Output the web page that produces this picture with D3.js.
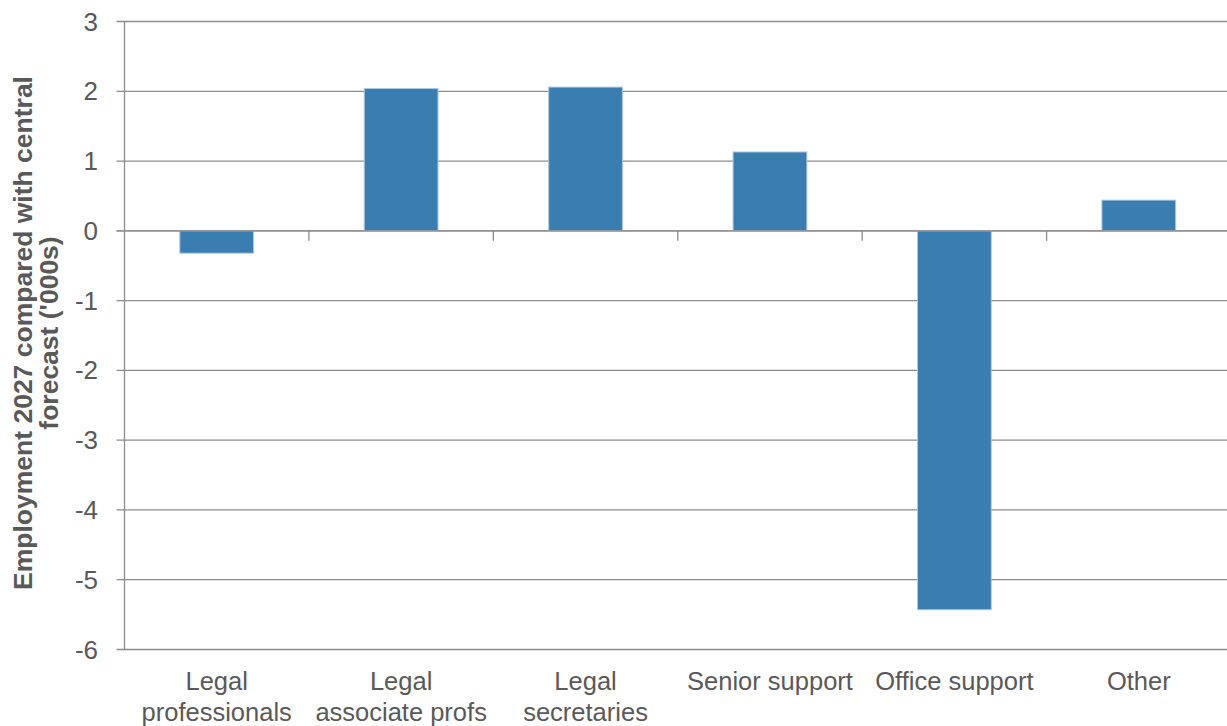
<!DOCTYPE html>
<html>
<head>
<meta charset="utf-8">
<script src="https://cdn.jsdelivr.net/npm/d3@7"></script>
<style>
  body { margin: 0; background: #fff; }
  svg { display: block; font-family: "Liberation Sans", Arial, sans-serif; }
</style>
</head>
<body>
<div id="chart"></div>
<script>
var categories = [["Legal", "professionals"], ["Legal", "associate profs"], ["Legal", "secretaries"], ["Senior support"], ["Office support"], ["Other"]]
var values = [-0.32, 2.04, 2.06, 1.13, -5.43, 0.44]
var yTicks = [3, 2, 1, 0, -1, -2, -3, -4, -5, -6]

var width = 1227, height = 726
// note: "top" is reserved on window, so use plot* names
var plotLeft = 124.5, plotRight = 1231, plotTop = 21.5, plotBottom = 649.5

var svg = d3.select('#chart').append('svg')
  .attr('width', width)
  .attr('height', height)

var x = d3.scaleBand()
  .domain(d3.range(categories.length))
  .range([plotLeft, plotRight])
  .paddingInner(0.6)
  .paddingOuter(0.3)

var y = d3.scaleLinear()
  .domain([-6, 3])
  .range([plotBottom, plotTop])

var grey = '#8c8c8c'
var textCol = '#595959'

// horizontal gridlines + left ticks
svg.append('g').selectAll('line')
  .data(yTicks)
  .enter()
  .append('line')
    .attr('x1', plotLeft - 8)
    .attr('x2', plotRight)
    .attr('y1', function(d) { return y(d); })
    .attr('y2', function(d) { return y(d); })
    .attr('stroke', grey)
    .attr('stroke-width', 1.3)

// y labels
svg.append('g').selectAll('text')
  .data(yTicks)
  .enter()
  .append('text')
    .attr('x', 98)
    .attr('y', function(d) { return y(d) + 9; })
    .attr('text-anchor', 'end')
    .attr('fill', textCol)
    .attr('font-size', 26)
    .text(function(d) { return d; })

// bars
svg.append('g').selectAll('rect')
  .data(values)
  .enter()
  .append('rect')
    .attr('x', function(d, i) { return x(i); })
    .attr('width', x.bandwidth())
    .attr('y', function(d) { return y(Math.max(0, d)); })
    .attr('height', function(d) { return Math.abs(y(d) - y(0)); })
    .attr('fill', '#3a7db1')
    .attr('stroke', '#a9c9e3')
    .attr('stroke-width', 1)

// y axis line
svg.append('line')
  .attr('x1', plotLeft).attr('x2', plotLeft)
  .attr('y1', plotTop).attr('y2', plotBottom)
  .attr('stroke', grey)
  .attr('stroke-width', 1.3)

// zero line with category ticks
var step = x.step()
svg.append('line')
  .attr('x1', plotLeft - 8).attr('x2', plotRight)
  .attr('y1', y(0)).attr('y2', y(0))
  .attr('stroke', grey)
  .attr('stroke-width', 1.3)
svg.append('g').selectAll('line')
  .data(d3.range(1, categories.length + 1))
  .enter()
  .append('line')
    .attr('x1', function(i) { return plotLeft + i * step; })
    .attr('x2', function(i) { return plotLeft + i * step; })
    .attr('y1', y(0))
    .attr('y2', y(0) + 10)
    .attr('stroke', grey)
    .attr('stroke-width', 1.3)

// category labels
var cat = svg.append('g').selectAll('text')
  .data(categories)
  .enter()
  .append('text')
    .attr('text-anchor', 'middle')
    .attr('fill', textCol)
    .attr('font-size', 25.5)
    .attr('transform', function(d, i) { return 'translate(' + (x(i) + x.bandwidth() / 2) + ',690)'; })
cat.selectAll('tspan')
  .data(function(d) { return d; })
  .enter()
  .append('tspan')
    .attr('x', 0)
    .attr('y', function(d, j) { return j * 31; })
    .text(function(d) { return d; })

// y title
var title = svg.append('text')
  .attr('transform', 'translate(32,333) rotate(-90)')
  .attr('text-anchor', 'middle')
  .attr('fill', textCol)
  .attr('font-weight', 'bold')
  .attr('font-size', 26.5)
title.append('tspan').attr('x', 0).attr('y', 0).text('Employment 2027 compared with central')
title.append('tspan').attr('x', 0).attr('y', 26).text("forecast ('000s)")
</script>
</body>
</html>
